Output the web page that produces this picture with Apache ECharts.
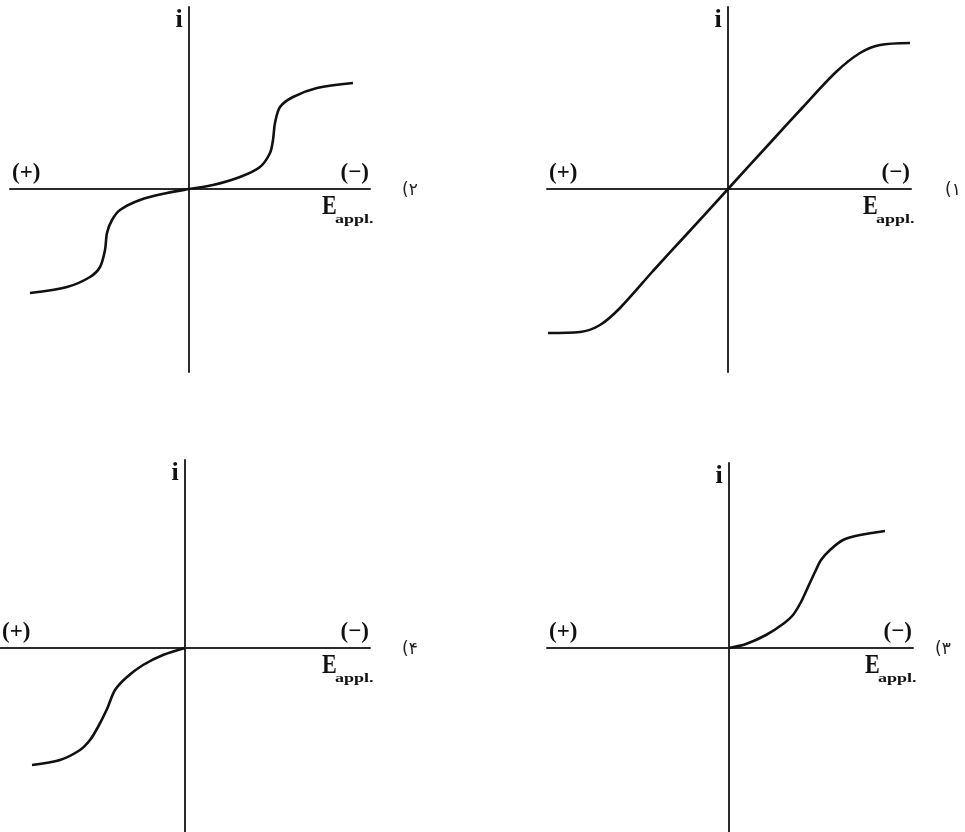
<!DOCTYPE html>
<html>
<head>
<meta charset="utf-8">
<script src="https://cdn.jsdelivr.net/npm/echarts@6/dist/echarts.min.js"></script>
<style>
  html, body { margin: 0; padding: 0; background: #fff; }
  #chart { width: 965px; height: 832px; }
</style>
</head>
<body>
<div id="chart"></div>
<script>
// E (applied potential) and i values for each curve, arbitrary units (origin = 0,0)
// panel 1 (top right) - linear with saturation on both sides
const e1 = [-180, -148, -128, -108, -75, -42, 0, 42, 75, 108, 132, 152, 182];
const i1 = [-144, -143, -136, -119, -82, -46, 0, 46, 82, 117, 136, 144, 146];

// panel 2 (top left) - two waves, symmetric
const e2 = [-159, -122, -99, -89, -84, -82, -77, -69, -49, -22, 0, 24, 51, 71, 81, 84, 86, 91, 104, 128, 164];
const i2 = [-104, -98, -88, -78, -61, -44, -31, -21, -11, -4, 0, 4, 12, 22, 36, 49, 66, 82, 92, 101, 106];

// panel 3 (bottom right) - cathodic wave only
const e3 = [0, 17, 37, 54, 64, 72, 79, 86, 92, 101, 114, 131, 156];
const i3 = [0, 4, 13, 24, 33, 46, 61, 76, 88, 98, 108, 113, 117];

// panel 4 (bottom left) - anodic wave only
const e4 = [-153, -125, -105, -95, -87, -78, -70, -58, -42, -22, 0];
const i4 = [-117, -112, -102, -92, -79, -61, -42, -29, -17, -7, 0];

const panelNames = ['(۱', '(۲', '(۳', '(۴'];

// grid boxes + axis ranges, in panel order 1..4
const panels = [
  { left: 547, top: 7, width: 364, height: 365, xmin: -181, xmax: 183, ymin: -183, ymax: 182, numX: 945, e: e1, i: i1 },
  { left: 10, top: 7, width: 360, height: 365, xmin: -179, xmax: 181, ymin: -183, ymax: 182, numX: 402, e: e2, i: i2 },
  { left: 547, top: 463, width: 366, height: 369, xmin: -182, xmax: 184, ymin: -184, ymax: 185, numX: 935, e: e3, i: i3 },
  { left: 0, top: 460, width: 370, height: 372, xmin: -185, xmax: 185, ymin: -184, ymax: 188, numX: 402, e: e4, i: i4 }
];

const axisColor = '#2b2b2b';
const serif = '"Liberation Serif", "DejaVu Serif", serif';

let grids = [], xAxes = [], yAxes = [], series = [], texts = [];

panels.forEach(function (p, k) {
  grids.push({ left: p.left, top: p.top, width: p.width, height: p.height });

  xAxes.push({
    type: 'value', gridIndex: k, min: p.xmin, max: p.xmax,
    axisLine: { show: true, onZero: true, lineStyle: { color: axisColor, width: 2 } },
    axisTick: { show: false }, axisLabel: { show: false }, splitLine: { show: false }
  });
  yAxes.push({
    type: 'value', gridIndex: k, min: p.ymin, max: p.ymax,
    axisLine: { show: true, onZero: true, lineStyle: { color: axisColor, width: 2 } },
    axisTick: { show: false }, axisLabel: { show: false }, splitLine: { show: false }
  });

  series.push({
    type: 'line', xAxisIndex: k, yAxisIndex: k,
    data: p.e.map(function (v, j) { return [v, p.i[j]]; }),
    smooth: 0.3, showSymbol: false, silent: true,
    lineStyle: { color: '#111', width: 2.6 }
  });

  // pixel positions of the origin and the axis ends
  const ox = p.left + p.width * (-p.xmin) / (p.xmax - p.xmin);
  const oy = p.top + p.height * p.ymax / (p.ymax - p.ymin);
  const xl = p.left, xr = p.left + p.width;

  texts.push(
    { type: 'text', x: ox - 10, y: p.top + 13, style: { text: 'i', font: 'bold 26px ' + serif, fill: '#111', align: 'center', verticalAlign: 'middle' } },
    { type: 'text', x: xl + 2, y: oy - 16, style: { text: '(+)', font: 'bold 23px ' + serif, fill: '#111', align: 'left', verticalAlign: 'middle' } },
    { type: 'text', x: xr - 1, y: oy - 16, style: { text: '(\u2212)', font: 'bold 23px ' + serif, fill: '#111', align: 'right', verticalAlign: 'middle' } },
    { type: 'text', x: xr - 48, y: oy + 18, scaleX: 0.82, style: { text: 'E', font: 'bold 27px ' + serif, fill: '#111', align: 'left', verticalAlign: 'middle' } },
    { type: 'text', x: xr - 35, y: oy + 31, scaleX: 1.5, style: { text: 'appl.', font: 'bold 12px ' + serif, fill: '#111', align: 'left', verticalAlign: 'middle' } },
    { type: 'text', x: p.numX, y: oy + 2, style: { text: panelNames[k], font: '17px "DejaVu Sans", "Noto Sans", sans-serif', fill: '#222', align: 'left', verticalAlign: 'middle' } }
  );
});

const chart = echarts.init(document.getElementById('chart'), null, { renderer: 'canvas' });
chart.setOption({
  backgroundColor: '#fff',
  animation: false,
  grid: grids,
  xAxis: xAxes,
  yAxis: yAxes,
  series: series,
  graphic: texts
});
</script>
</body>
</html>
